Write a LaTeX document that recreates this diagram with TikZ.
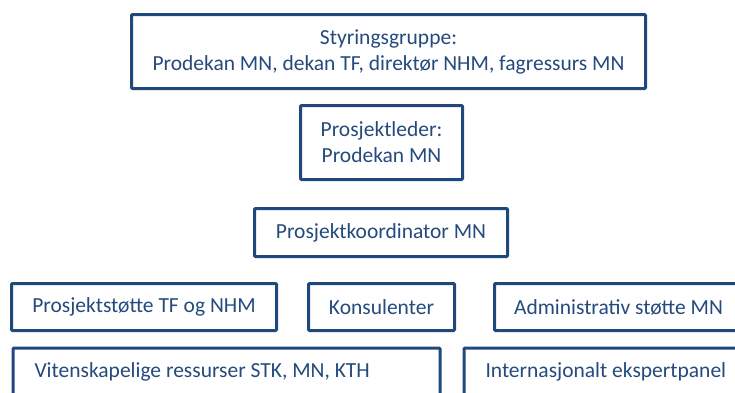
\documentclass[tikz,border=0pt]{standalone}
\usepackage{fontspec}
\setmainfont{Carlito}
\definecolor{boxblue}{HTML}{1F497D}
\definecolor{textblue}{HTML}{244A7E}
\tikzset{
  orgbox/.style={draw=boxblue, line width=3pt, rounded corners=1pt, fill=white,
    text=textblue, inner sep=0pt, align=center,
    font=\fontsize{21.5}{26}\selectfont},
  leftbox/.style={orgbox, align=flush left, anchor=north west}
}
\begin{document}
\frenchspacing
\begin{tikzpicture}[x=1pt,y=-1pt]
\useasboundingbox (0,0) rectangle (735,392);
\clip (0,0) rectangle (735,392);
\node[orgbox, minimum width=514pt, minimum height=74pt] (styr) at (388.5,51.5)
  {Styringsgruppe:\\Prodekan MN, dekan TF, direktør NHM, fagressurs MN};
\node[orgbox, minimum width=162pt, minimum height=74pt] (leder) at (381.5,142.5)
  {Prosjektleder:\\Prodekan MN};
\node[orgbox, minimum width=253pt, minimum height=48pt] (koord) at (381,232.5)
  {Prosjektkoordinator MN};
\node[orgbox, minimum width=265pt, minimum height=47pt] (stotte) at (144,307)
  {Prosjektstøtte TF og NHM};
\node[orgbox, minimum width=146pt, minimum height=47pt] (kons) at (381.5,307)
  {Konsulenter};
\node[orgbox, minimum width=248pt, minimum height=47pt] (admin) at (618.5,307)
  {Administrativ støtte MN};
\node[leftbox, text width=384pt, inner xsep=21.5pt, minimum height=48pt] (viten) at (11.5,346.5)
  {Vitenskapelige ressurser STK, MN, KTH};
\node[leftbox, text width=255pt, inner xsep=21.5pt, minimum height=48pt] (intl) at (462.5,346.5)
  {Internasjonalt ekspertpanel};
\end{tikzpicture}
\end{document}
